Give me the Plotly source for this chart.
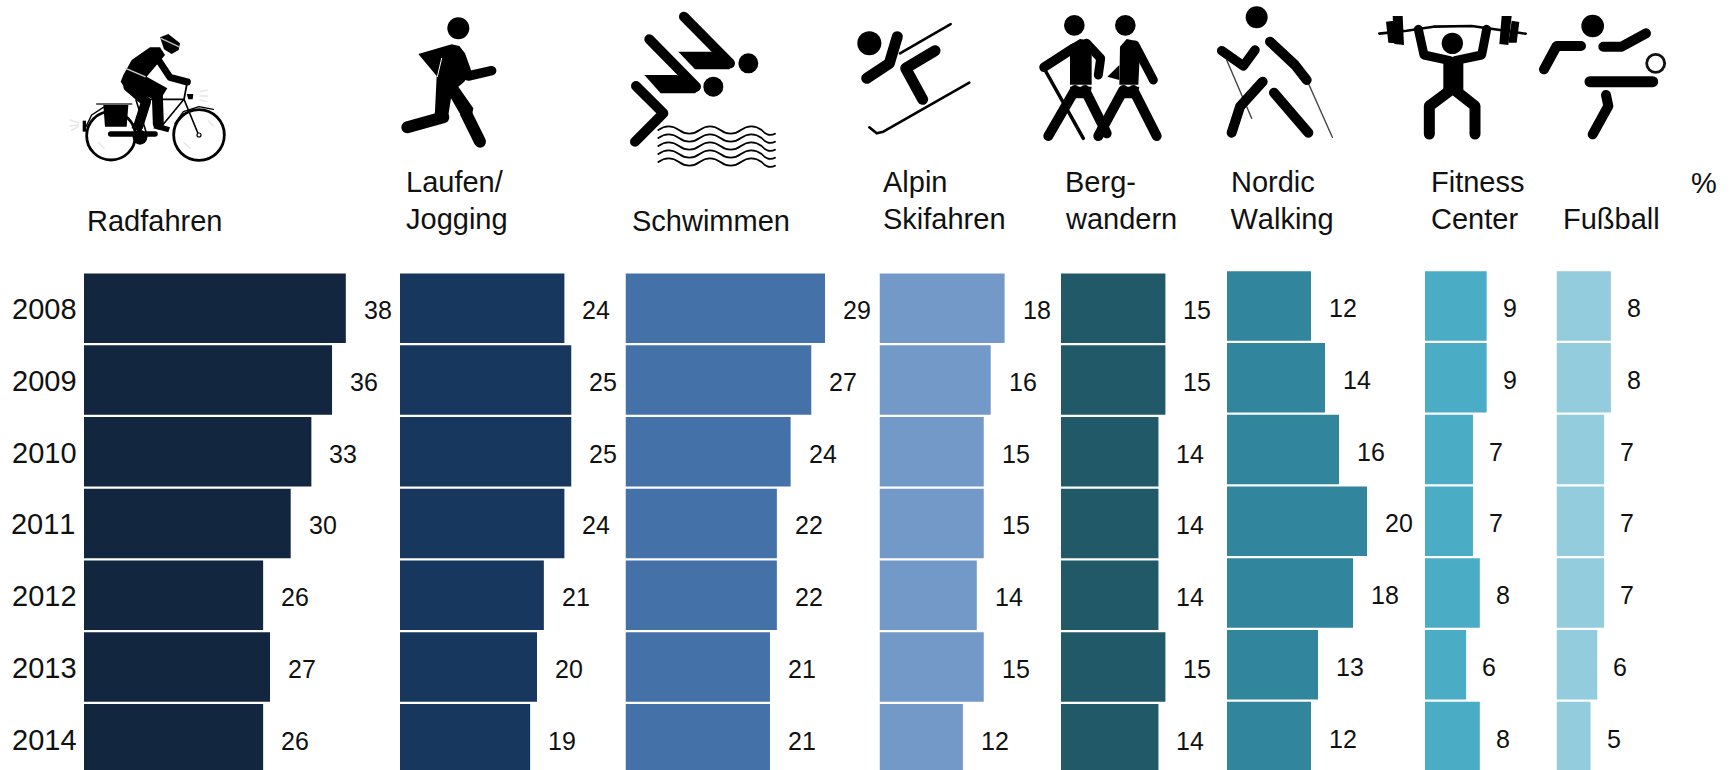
import plotly.graph_objects as go

W, H = 1732, 770
FONT = "Liberation Sans"

years = ["2008", "2009", "2010", "2011", "2012", "2013", "2014"]
radfahren = [38, 36, 33, 30, 26, 27, 26]
laufen = [24, 25, 25, 24, 21, 20, 19]
schwimmen = [29, 27, 24, 22, 22, 21, 21]
alpin = [18, 16, 15, 15, 14, 15, 12]
bergwandern = [15, 15, 14, 14, 14, 15, 14]
nordic = [12, 14, 16, 20, 18, 13, 12]
fitness = [9, 9, 7, 7, 8, 6, 8]
fussball = [8, 8, 7, 7, 7, 6, 5]

# series, colour, left pixel, pixels per percent, y axis, label offset
columns = [
    (radfahren, "#12263F", 84, 6.89, "y", 16),
    (laufen, "#17375E", 400, 6.85, "y", 16),
    (schwimmen, "#4371A8", 625.5, 6.88, "y", 16),
    (alpin, "#7399C9", 879.5, 6.95, "y", 16),
    (bergwandern, "#215968", 1061, 6.96, "y", 16),
    (nordic, "#31859C", 1227, 7.0, "y2", 16),
    (fitness, "#4BACC6", 1425, 6.85, "y2", 14),
    (fussball, "#93CDDD", 1556.5, 6.8, "y2", 14),
]

# header text: (text, left px, baseline px)
headers = [
    ("Radfahren", 87, 230.7),
    ("Laufen/", 405.5, 191.7), ("Jogging", 405.5, 229),
    ("Schwimmen", 631.5, 230.7),
    ("Alpin", 883, 191.7), ("Skifahren", 883, 229),
    ("Berg-", 1065, 191.7), ("wandern", 1065, 229),
    ("Nordic", 1230.5, 191.7), ("Walking", 1230.5, 229),
    ("Fitness", 1431, 191.7), ("Center", 1431, 229),
    ("Fußball", 1563, 229),
    ("%", 1691, 193),
]

fig = go.Figure()
annotations = []
layout = {}
STEP = 71.75
for i, (vals, colour, left, unit, yax, offset) in enumerate(columns):
    right = columns[i + 1][2] - 1 if i + 1 < len(columns) else W
    name = "x" if i == 0 else f"x{i + 1}"
    key = "xaxis" if i == 0 else f"xaxis{i + 1}"
    layout[key] = dict(
        domain=[left / W, right / W], range=[0, (right - left) / unit],
        showticklabels=False, showgrid=False, zeroline=False, showline=False, ticks="",
        anchor=yax, fixedrange=True,
    )
    fig.add_trace(go.Bar(
        x=vals, y=years, orientation="h", xaxis=name, yaxis=yax,
        marker=dict(color=colour, line=dict(width=0)), showlegend=False, hoverinfo="skip",
    ))
    for j, v in enumerate(vals):
        annotations.append(dict(
            x=v, y=j, xref=name, yref=yax, text=str(v), showarrow=False,
            xanchor="left", yanchor="middle", xshift=offset, yshift=-2,
            font=dict(family=FONT, size=25, color="#111111"),
        ))

for j, yr in enumerate(years):
    annotations.append(dict(
        x=12 / W, y=j, xref="paper", yref="y", text=yr, showarrow=False,
        xanchor="left", yanchor="middle", xshift=-2, yshift=-1,
        font=dict(family=FONT, size=29, color="#111111"),
    ))

for text, px, base in headers:
    annotations.append(dict(
        x=px / W, y=1 - base / H, xref="paper", yref="paper", text=text, showarrow=False,
        xanchor="left", yanchor="bottom", xshift=-2, yshift=-8,
        font=dict(family=FONT, size=29, color="#111111"),
    ))

# ---------- pictograms, drawn as shapes (coordinates are 3x-zoom pixels of each group)
shapes = []


def mapper(x0, y0):
    return lambda x, y: ((x0 + x / 3) / W, 1 - (y0 + y / 3) / H)


def stroke(m, pts, w, colour="#000000"):
    d = "M " + " L ".join("%.5f,%.5f" % m(*p) for p in pts)
    shapes.append(dict(type="path", xref="paper", yref="paper", path=d,
                       line=dict(color=colour, width=w), fillcolor="rgba(0,0,0,0)"))


def fill(m, pts, colour="#000000"):
    d = "M " + " L ".join("%.5f,%.5f" % m(*p) for p in pts) + " Z"
    shapes.append(dict(type="path", xref="paper", yref="paper", path=d,
                       line=dict(width=0), fillcolor=colour))


def circle(m, cx, cy, r, fc="#000000", lc=None, lw=0):
    a = m(cx - r, cy - r)
    b = m(cx + r, cy + r)
    shapes.append(dict(type="circle", xref="paper", yref="paper", x0=a[0], y0=b[1], x1=b[0], y1=a[1],
                       fillcolor=fc, line=dict(color=lc or fc, width=lw)))


def wave(m, y, start=805, half=62, end=1155, amp=22):
    x = start
    up = True
    d = "M %.5f,%.5f" % m(x, y)
    while x + half <= end:
        c = m(x + half / 2, y - amp if up else y + amp)
        e = m(x + half, y)
        d += " Q %.5f,%.5f %.5f,%.5f" % (c + e)
        x += half
        up = not up
    c = m(x + (end - x) / 2, y - amp if up else y + amp)
    e = m(end, y - amp / 2 if up else y + amp / 2)
    d += " Q %.5f,%.5f %.5f,%.5f" % (c + e)
    shapes.append(dict(type="path", xref="paper", yref="paper", path=d,
                       line=dict(color="#000000", width=1.8), fillcolor="rgba(0,0,0,0)"))


# bicycle
m = mapper(60, 20)
for pts in ([(30, 300), (55, 308)], [(30, 318), (55, 315)], [(35, 330), (55, 320)],
            [(420, 215), (442, 210)], [(420, 228), (442, 228)], [(420, 240), (440, 245)],
            [(115, 367), (132, 385)], [(445, 302), (460, 318)], [(372, 368), (390, 385)]):
    stroke(m, pts, 1.4, "#E6E6E6")
circle(m, 153, 347, 73, "rgba(0,0,0,0)", "#000000", 2.8)
circle(m, 417, 345, 76, "rgba(0,0,0,0)", "#000000", 2.8)
stroke(m, [(78, 320), (95, 285), (130, 262)], 1.4)
stroke(m, [(345, 310), (370, 275), (417, 260), (460, 268)], 1.4)
stroke(m, [(110, 252), (215, 252)], 1.5, "#333333")
stroke(m, [(240, 238), (372, 238), (416, 345)], 1.6)
stroke(m, [(300, 325), (370, 240)], 1.6)
stroke(m, [(228, 240), (258, 335)], 1.6)
stroke(m, [(372, 238), (380, 195)], 1.8)
fill(m, [(130, 255), (205, 255), (200, 320), (135, 320)])
fill(m, [(380, 222), (400, 222), (398, 238), (385, 238)])
fill(m, [(68, 302), (78, 302), (78, 335), (68, 335)])
stroke(m, [(152, 342), (285, 342)], 5.5)
circle(m, 240, 352, 22)
circle(m, 417, 345, 6, "#FFFFFF", "#000000", 1.2)
fill(m, [(190, 165), (215, 120), (270, 82), (300, 82), (315, 105), (260, 170), (322, 205), (300, 240),
         (195, 205), (182, 185)])
stroke(m, [(292, 115), (330, 172), (382, 186)], 7)
stroke(m, [(210, 190), (292, 225), (295, 312)], 11)
stroke(m, [(205, 200), (258, 245), (235, 318)], 10)
fill(m, [(290, 310), (330, 322), (325, 337), (280, 325)])
fill(m, [(218, 310), (250, 318), (245, 332), (215, 325)])
fill(m, [(300, 52), (325, 42), (360, 70), (356, 90), (335, 102), (312, 88)])
stroke(m, [(303, 55), (356, 80)], 1.5, "#BBBBBB")
stroke(m, [(197, 145), (255, 170)], 1.5, "#CCCCCC")

# runner
m = mapper(390, 10)
circle(m, 205, 55, 33)
fill(m, [(85, 132), (185, 103), (208, 108), (225, 130), (245, 185), (222, 216), (205, 230), (250, 295),
         (245, 320), (215, 320), (183, 265), (172, 335), (130, 345), (135, 303), (140, 198)])
stroke(m, [(160, 322), (52, 352)], 12)
stroke(m, [(228, 310), (270, 395)], 12)
stroke(m, [(235, 198), (305, 182)], 9.5)
stroke(m, [(155, 145), (142, 200)], 1, "#FFFFFF")

# swimmer
stroke(m, [(882, 20), (1020, 160)], 10)
fill(m, [(865, 125), (965, 125), (1030, 155), (1030, 165), (1018, 178), (915, 178)])
circle(m, 1075, 160, 30)
stroke(m, [(778, 88), (918, 230)], 10)
fill(m, [(763, 195), (860, 195), (930, 228), (930, 238), (915, 250), (812, 250)])
circle(m, 970, 230, 30)
stroke(m, [(738, 228), (820, 310), (735, 395)], 10)
for wy in (360, 384, 408, 432, 456):
    wave(m, wy)

# skier
m = mapper(840, 10)
circle(m, 88, 100, 36)
stroke(m, [(180, 130), (332, 42)], 2.6)
stroke(m, [(88, 352), (110, 370), (130, 365), (388, 218)], 2.6)
stroke(m, [(172, 80), (148, 160), (80, 205)], 11)
stroke(m, [(285, 122), (197, 175), (248, 268)], 11)

# hikers
circle(m, 703, 46, 31)
circle(m, 856, 46, 31)
fill(m, [(690, 105), (720, 87), (740, 90), (755, 105), (755, 224), (690, 224)])
stroke(m, [(700, 115), (612, 172)], 9.5)
stroke(m, [(740, 100), (782, 145), (775, 195)], 9)
stroke(m, [(615, 180), (730, 385)], 3.5)
fill(m, [(690, 230), (755, 230), (750, 265), (695, 265)])
stroke(m, [(705, 240), (625, 378)], 10)
stroke(m, [(735, 240), (800, 370)], 10)
fill(m, [(840, 110), (860, 87), (885, 92), (900, 120), (895, 224), (838, 224)])
stroke(m, [(885, 105), (940, 210)], 9)
fill(m, [(838, 165), (802, 200), (838, 210)])
fill(m, [(840, 230), (898, 230), (890, 265), (845, 265)])
stroke(m, [(850, 240), (775, 378)], 10)
stroke(m, [(880, 240), (950, 378)], 10)

# nordic walker
m = mapper(1200, 0)
circle(m, 170, 52, 33)
stroke(m, [(80, 180), (155, 355)], 1.4, "#444444")
stroke(m, [(325, 250), (397, 412)], 1.4, "#444444")
stroke(m, [(65, 152), (130, 198), (165, 150)], 9.5)
stroke(m, [(210, 125), (285, 195), (320, 240)], 10)
stroke(m, [(188, 245), (120, 320), (95, 398)], 10)
stroke(m, [(222, 278), (325, 398)], 10)

# weightlifter
circle(m, 757, 130, 32)
stroke(m, [(538, 101), (620, 92), (700, 80), (815, 78), (900, 90), (977, 101)], 2.6)
fill(m, [(578, 48), (608, 48), (612, 135), (583, 132)])
fill(m, [(558, 65), (582, 62), (588, 130), (565, 128)])
fill(m, [(905, 48), (935, 48), (925, 135), (898, 132)])
fill(m, [(935, 62), (958, 66), (950, 128), (925, 128)])
stroke(m, [(655, 88), (672, 165), (750, 182)], 9)
stroke(m, [(860, 88), (845, 165), (765, 182)], 9)
fill(m, [(730, 172), (790, 172), (790, 270), (730, 270)])
stroke(m, [(755, 268), (688, 318), (688, 402)], 11)
stroke(m, [(762, 268), (825, 318), (825, 402)], 11)

# football player
circle(m, 1178, 78, 34)
stroke(m, [(1143, 138), (1070, 138), (1032, 208)], 10)
stroke(m, [(1210, 140), (1265, 140), (1338, 100)], 10)
circle(m, 1367, 190, 27, "#FFFFFF", "#111111", 2.8)
stroke(m, [(1170, 245), (1358, 245)], 11)
stroke(m, [(1218, 285), (1225, 318), (1178, 403)], 10)

layout["yaxis"] = dict(
    domain=[0, 1], type="category", categoryorder="array", categoryarray=years,
    range=[(H - 308.2) / STEP, -308.2 / STEP], anchor="x", showgrid=False, zeroline=False,
    showline=False, showticklabels=False, ticks="", fixedrange=True,
)
layout["yaxis2"] = dict(
    domain=[0, 1], type="category", categoryorder="array", categoryarray=years,
    range=[(H - 306) / STEP, -306 / STEP], anchor="x6", showgrid=False, zeroline=False,
    showline=False, showticklabels=False, ticks="", fixedrange=True,
)

fig.update_layout(
    width=W, height=H, margin=dict(l=0, r=0, t=0, b=0), autosize=False,
    paper_bgcolor="#FFFFFF", plot_bgcolor="#FFFFFF", bargap=0.03,
    annotations=annotations, shapes=shapes, showlegend=False,
    **layout,
)

css = ("var s=document.createElement('style');"
       "s.textContent='html,body{margin:0;padding:0;overflow:hidden}"
       "text{font-kerning:none}"
       ".shapelayer path{stroke-linecap:round;stroke-linejoin:round}';"
       "document.head.appendChild(s);")
fig.write_html("out.html", post_script=css, config={"displayModeBar": False})
